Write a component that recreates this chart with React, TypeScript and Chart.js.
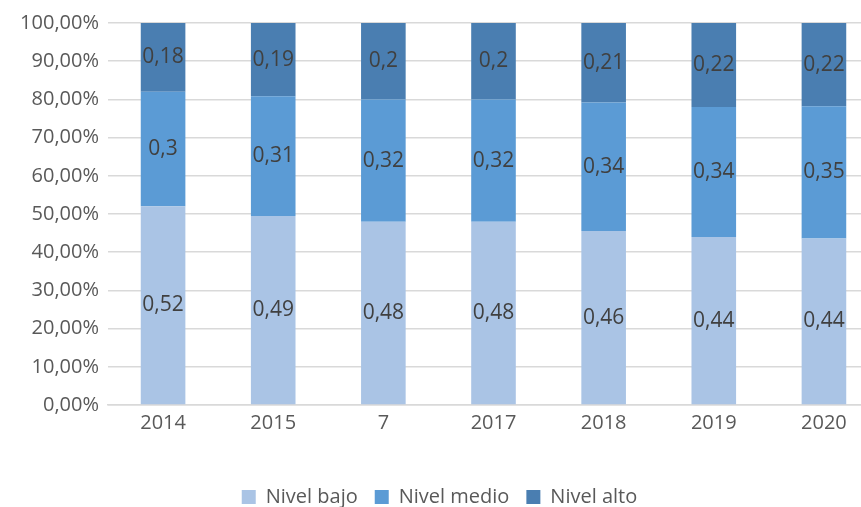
import React, { useEffect, useRef } from "react";
import { Chart, registerables } from "chart.js";

Chart.register(...registerables);

const categories = ["2014", "2015", "7", "2017", "2018", "2019", "2020"];
const nivelBajo = [0.52, 0.49, 0.48, 0.48, 0.46, 0.44, 0.44];
const nivelMedio = [0.3, 0.31, 0.32, 0.32, 0.34, 0.34, 0.35];
const nivelAlto = [0.18, 0.19, 0.2, 0.2, 0.21, 0.22, 0.22];
const seriesNames = ["Nivel bajo", "Nivel medio", "Nivel alto"];
const seriesColors = ["#AAC4E5", "#5B9BD5", "#4A7EB1"];

const FONT = "'Open Sans', 'Noto Sans', sans-serif";

const fmt = (v: number) => String(v).replace(".", ",");

const labelPlugin = {
  id: "barValueLabels",
  afterDatasetsDraw(chart: any) {
    const ctx = chart.ctx;
    ctx.save();
    ctx.font = `21px ${FONT}`;
    ctx.fillStyle = "#404040";
    ctx.textAlign = "center";
    ctx.textBaseline = "middle";
    chart.data.datasets.forEach((ds: any, di: number) => {
      const meta = chart.getDatasetMeta(di);
      meta.data.forEach((el: any, i: number) => {
        const raw = ds.rawValues[i];
        const y = (el.y + el.base) / 2;
        ctx.fillText(fmt(raw), el.x, y);
      });
    });
    ctx.restore();
  },
};

export default function App() {
  const ref = useRef<HTMLCanvasElement | null>(null);

  useEffect(() => {
    if (!ref.current) return;
    const raws = [nivelBajo, nivelMedio, nivelAlto];
    const totals = categories.map((_, i) => raws.reduce((s, r) => s + r[i], 0));
    const chart = new Chart(ref.current, {
      type: "bar",
      data: {
        labels: categories,
        datasets: raws.map((r, k) => ({
          label: seriesNames[k],
          data: r.map((v, i) => (v / totals[i]) * 100),
          rawValues: r,
          backgroundColor: seriesColors[k],
          borderWidth: 0,
          barPercentage: 0.405,
          categoryPercentage: 1,
        })) as any,
      },
      options: {
        animation: false,
        responsive: false,
        maintainAspectRatio: false,
        layout: { padding: { top: 23, right: 3, left: 0, bottom: -10 } },
        plugins: {
          tooltip: { enabled: false },
          legend: {
            position: "bottom",
            labels: {
              boxWidth: 14,
              boxHeight: 14,
              padding: 17,
              color: "#595959",
              font: { family: FONT, size: 20 },
            },
          },
        },
        scales: {
          x: {
            stacked: true,
            grid: { display: false, drawTicks: false },
            border: { display: true, color: "#D9D9D9", width: 1.5 },
            ticks: { color: "#595959", font: { family: FONT, size: 20 }, padding: 6 },
            afterFit: (s: any) => {
              s.height = 65;
            },
          },
          y: {
            stacked: true,
            min: 0,
            max: 100,
            grid: { color: "#D9D9D9", lineWidth: 1.5, drawTicks: false },
            border: { display: false },
            ticks: {
              stepSize: 10,
              padding: 9,
              color: "#595959",
              font: { family: FONT, size: 20 },
              callback: (v: any) => Number(v).toFixed(2).replace(".", ",") + "%",
            },
            afterFit: (s: any) => {
              s.width = 108;
            },
          },
        },
      },
      plugins: [labelPlugin],
    });
    return () => chart.destroy();
  }, []);

  return (
    <div
      style={{
        position: "absolute",
        left: 0,
        top: 0,
        width: 861,
        height: 507,
        overflow: "hidden",
        background: "#fff",
      }}
    >
      <canvas ref={ref} width={882} height={507} style={{ width: 882, height: 507, display: "block" }} />
    </div>
  );
}
